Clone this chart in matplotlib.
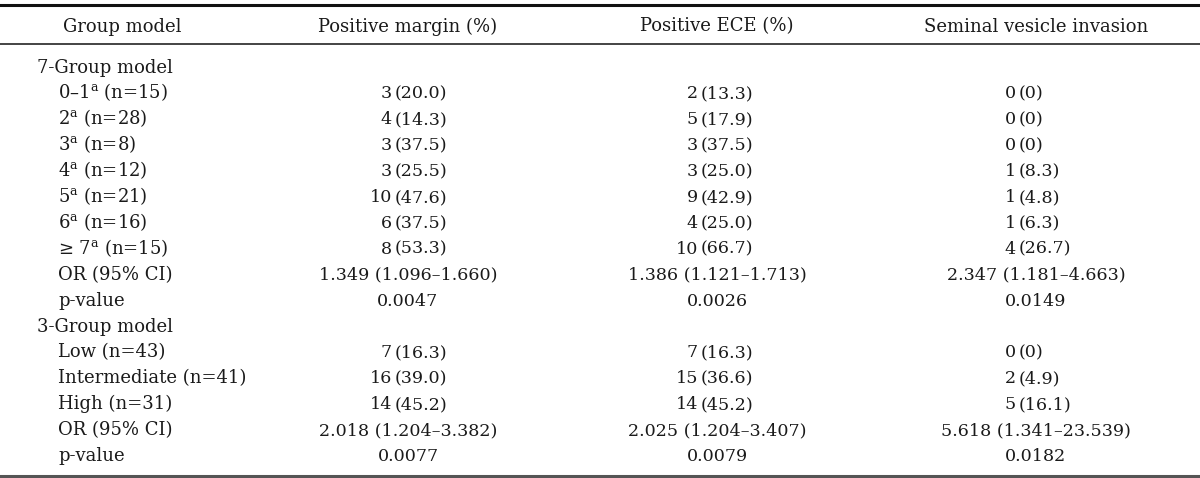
import matplotlib
matplotlib.use("Agg")
import matplotlib.pyplot as plt

# table content
headers = ["Group model", "Positive margin (%)", "Positive ECE (%)", "Seminal vesicle invasion"]
row_labels = [
    "7-Group model",
    r"0–1$^{\mathrm{a}}$ (n=15)",
    r"2$^{\mathrm{a}}$ (n=28)",
    r"3$^{\mathrm{a}}$ (n=8)",
    r"4$^{\mathrm{a}}$ (n=12)",
    r"5$^{\mathrm{a}}$ (n=21)",
    r"6$^{\mathrm{a}}$ (n=16)",
    r"≥ 7$^{\mathrm{a}}$ (n=15)",
    "OR (95% CI)",
    "p-value",
    "3-Group model",
    "Low (n=43)",
    "Intermediate (n=41)",
    "High (n=31)",
    "OR (95% CI)",
    "p-value",
]
# 0 = group heading, 1 = count row, 2 = OR / p-value row
row_kind = [0, 1, 1, 1, 1, 1, 1, 1, 2, 2, 0, 1, 1, 1, 2, 2]

margin = ["", "3 (20.0)", "4 (14.3)", "3 (37.5)", "3 (25.5)", "10 (47.6)", "6 (37.5)", "8 (53.3)",
          "1.349 (1.096–1.660)", "0.0047",
          "", "7 (16.3)", "16 (39.0)", "14 (45.2)", "2.018 (1.204–3.382)", "0.0077"]
ece = ["", "2 (13.3)", "5 (17.9)", "3 (37.5)", "3 (25.0)", "9 (42.9)", "4 (25.0)", "10 (66.7)",
       "1.386 (1.121–1.713)", "0.0026",
       "", "7 (16.3)", "15 (36.6)", "14 (45.2)", "2.025 (1.204–3.407)", "0.0079"]
svi = ["", "0 (0)", "0 (0)", "0 (0)", "1 (8.3)", "1 (4.8)", "1 (6.3)", "4 (26.7)",
       "2.347 (1.181–4.663)", "0.0149",
       "", "0 (0)", "2 (4.9)", "5 (16.1)", "5.618 (1.341–23.539)", "0.0182"]

plt.rcParams["font.family"] = ["DejaVu Serif"]
plt.rcParams["mathtext.fontset"] = "dejavuserif"

fig = plt.figure(figsize=(12, 4.78), dpi=100)
ax = fig.add_axes([0, 0, 1, 1])
ax.set_xlim(0, 1200)
ax.set_ylim(478, 0)
ax.axis("off")

fs_lab = 13.0
fs_num = 12.6
col = "#1a1a1a"
centers = [122, 408, 717, 1036]
parens = [None, 395, 701, 1019]
base = 5.5  # baseline offset below row centre

# rules
ax.axhline(5, color="#111111", lw=2.2)
ax.axhline(44, color="#111111", lw=1.1)
ax.axhline(476, color="#555555", lw=2.2)

for k, (x, h) in enumerate(zip(centers, headers)):
    ax.text(x, 26 + base, h, ha="center", va="baseline",
            fontsize=fs_lab, color=col)

y0, dy = 67, 25.9
for i, lab in enumerate(row_labels):
    y = y0 + dy * i + base
    x = 37 if row_kind[i] == 0 else 58
    ax.text(x, y, lab, ha="left", va="baseline", fontsize=fs_lab, color=col)
    for j, vals in enumerate([margin, ece, svi], start=1):
        v = vals[i]
        if not v:
            continue
        if row_kind[i] == 1:
            n, p = v.split(" ", 1)
            ax.text(parens[j] - 3, y, n, ha="right", va="baseline", fontsize=fs_num, color=col)
            ax.text(parens[j], y, p, ha="left", va="baseline", fontsize=fs_num, color=col)
        else:
            ax.text(centers[j], y, v, ha="center", va="baseline", fontsize=fs_num, color=col)

fig.savefig("out.png", dpi=100)
